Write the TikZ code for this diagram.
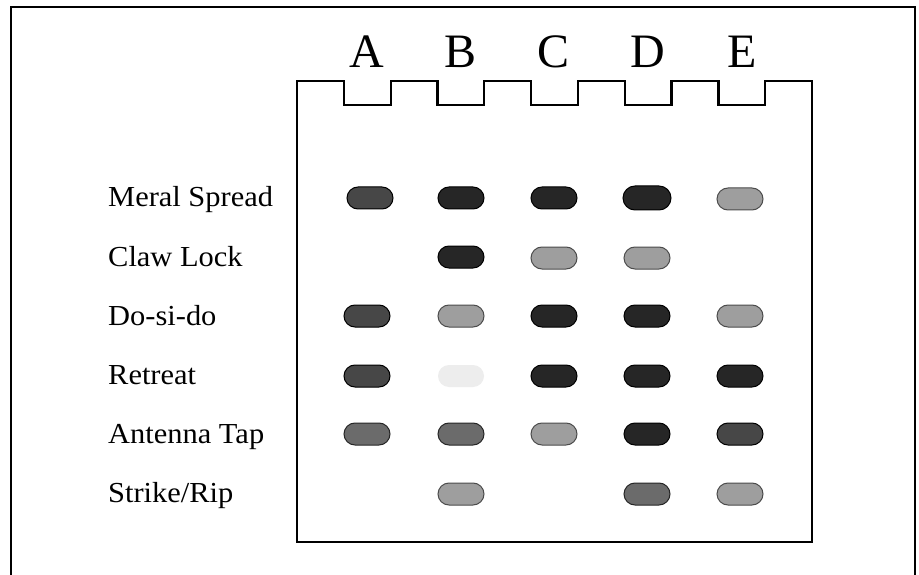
\documentclass[tikz,border=0pt]{standalone}
\usepackage{fontspec}
\setmainfont{Liberation Serif}
\newfontfamily\lblfont[FakeStretch=1.05]{Liberation Serif}
\begin{document}
\begin{tikzpicture}[x=1pt,y=-1pt,
  frameline/.style={line width=1.8pt},
  gelline/.style={line width=2.2pt, line join=miter},
  lane/.style={font=\fontsize{48}{48}\selectfont, anchor=base, inner sep=0pt},
  lbl/.style={font=\lblfont\fontsize{29}{29}\selectfont, anchor=base west, inner sep=0pt},
  band/.style={rounded corners=11pt, minimum width=46pt, minimum height=22pt, inner sep=0pt, draw=black, line width=1pt},
  dark/.style={band, fill=black!85},
  dmid/.style={band, fill=black!72},
  mid/.style={band, fill=black!58, draw=black!85},
  light/.style={band, fill=black!38, draw=black!70},
  faint/.style={band, fill=black!7, draw=none},
]
\useasboundingbox (0,0) rectangle (919,575);
\fill[white] (0,0) rectangle (919,575);
% outer frame (open at the bottom)
\draw[frameline] (11,580) -- (11,7) -- (915,7) -- (915,580);
% gel with wells
\draw[gelline] (297,542) -- (297,81) -- (343.8,81) -- (343.8,105) -- (390.6,105) -- (390.6,81)
  -- (437.5,81) -- (437.5,105) -- (484.3,105) -- (484.3,81)
  -- (531.1,81) -- (531.1,105) -- (577.9,105) -- (577.9,81)
  -- (624.7,81) -- (624.7,105) -- (671.5,105) -- (671.5,81)
  -- (718.4,81) -- (718.4,105) -- (765.2,105) -- (765.2,81)
  -- (812,81) -- (812,542) -- cycle;
% lane letters
\node[lane] (LA) at (367,68) {A};
\node[lane] (LB) at (461,68) {B};
\node[lane] (LC) at (554,68) {C};
\node[lane] (LD) at (648,68) {D};
\node[lane] (LE) at (742,68) {E};
% row labels
\node[lbl] (r1) at (108,207) {Meral Spread};
\node[lbl] (r2) at (108,266) {Claw Lock};
\node[lbl] (r3) at (108,325) {Do-si-do};
\node[lbl] (r4) at (108,384) {Retreat};
\node[lbl] (r5) at (108,443) {Antenna Tap};
\node[lbl] (r6) at (108,502) {Strike/Rip};
% bands: row 1 Meral Spread
\node[dmid] (b1A) at (370,198) {};
\node[dark] (b1B) at (461,198) {};
\node[dark] (b1C) at (554,198) {};
\node[dark, minimum width=48pt, minimum height=24pt, rounded corners=12pt] (b1D) at (647,198) {};
\node[light] (b1E) at (740,199) {};
% row 2 Claw Lock
\node[dark] (b2B) at (461,257) {};
\node[light] (b2C) at (554,258) {};
\node[light] (b2D) at (647,258) {};
% row 3 Do-si-do
\node[dmid] (b3A) at (367,316) {};
\node[light] (b3B) at (461,316) {};
\node[dark] (b3C) at (554,316) {};
\node[dark] (b3D) at (647,316) {};
\node[light] (b3E) at (740,316) {};
% row 4 Retreat
\node[dmid] (b4A) at (367,376) {};
\node[faint] (b4B) at (461,376) {};
\node[dark] (b4C) at (554,376) {};
\node[dark] (b4D) at (647,376) {};
\node[dark] (b4E) at (740,376) {};
% row 5 Antenna Tap
\node[mid] (b5A) at (367,434) {};
\node[mid] (b5B) at (461,434) {};
\node[light] (b5C) at (554,434) {};
\node[dark] (b5D) at (647,434) {};
\node[dmid] (b5E) at (740,434) {};
% row 6 Strike/Rip
\node[light] (b6B) at (461,494) {};
\node[mid] (b6D) at (647,494) {};
\node[light] (b6E) at (740,494) {};
\end{tikzpicture}
\end{document}
